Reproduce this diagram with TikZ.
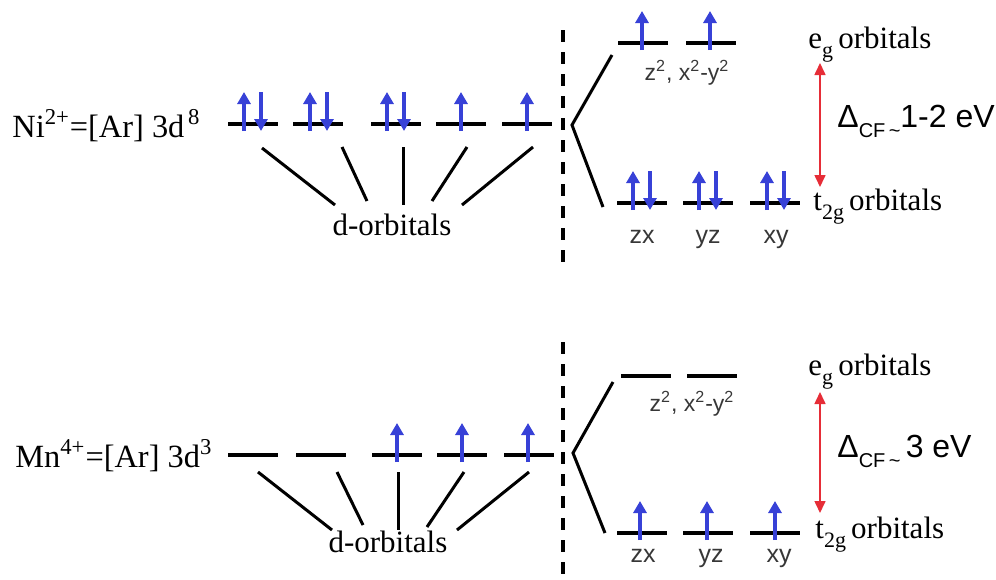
\documentclass[tikz,border=0pt]{standalone}
\usepackage{fontspec}
\setmainfont{Liberation Serif}
\newfontfamily\sansf{Liberation Sans}
\usetikzlibrary{arrows.meta,calc}
\definecolor{spinblue}{RGB}{55,65,215}
\definecolor{gapred}{RGB}{230,45,55}
\definecolor{labgray}{RGB}{55,55,55}
\newcommand\upspin[2]{\draw[spinup] ($(#1)+(#2,7)$) -- ($(#1)+(#2,-32)$);}
\newcommand\downspin[2]{\draw[spinup] ($(#1)+(#2,-32)$) -- ($(#1)+(#2,7)$);}
\newcommand\lowsub[1]{\raisebox{-0.3em}{\fontsize{11}{12}\selectfont #1}}
\newcommand\cfsub[1]{\raisebox{-0.32em}{\fontsize{10}{12}\selectfont #1}}
\tikzset{
  lvl/.style={minimum width=25pt, minimum height=0pt, inner sep=0pt, outer sep=0pt},
  lvlline/.style={line width=1.6pt, black},
  conn/.style={line width=1.5pt, black},
  spinup/.style={line width=1.6pt, spinblue, -{Triangle[length=6pt,width=6.5pt]}},
  gaparrow/.style={line width=0.8pt, gapred, {Triangle[length=6pt,width=5.5pt]}-{Triangle[length=6pt,width=5.5pt]}},
  divider/.style={line width=2pt, black, dash pattern=on 6pt off 5pt},
  serifbig/.style={font=\fontsize{16.2}{19}\selectfont, inner sep=0pt, anchor=base west},
  seriflab/.style={font=\fontsize{15.5}{18}\selectfont, inner sep=0pt},
  orblab/.style={font=\sansf\fontsize{12.5}{14}\selectfont, text=labgray, inner sep=0pt, anchor=base},
  smalllab/.style={font=\sansf\fontsize{11.5}{13}\selectfont, text=labgray, inner sep=0pt, anchor=base},
  gaplab/.style={font=\sansf\fontsize{16}{19}\selectfont, inner sep=0pt, anchor=base west}
}
\begin{document}
\begin{tikzpicture}[x=0.5pt,y=-0.5pt]
\useasboundingbox (0,0) rectangle (996,579);

% ---------------- top: Ni2+ ----------------
\node[serifbig] (ni) at (12,137) {Ni\textsuperscript{2+}=[Ar] 3d\textsuperscript{\,8}};
\node[lvl] (A1) at (253,124) {};
\node[lvl] (A2) at (318,124) {};
\node[lvl] (A3) at (396,124) {};
\node[lvl] (A4) at (461,124) {};
\node[lvl] (A5) at (527,124) {};
\foreach \n in {A1,A2,A3,A4,A5} {\draw[lvlline] (\n.west) -- (\n.east);}
\upspin{A1}{-9}\downspin{A1}{8}
\upspin{A2}{-8}\downspin{A2}{9}
\upspin{A3}{-9}\downspin{A3}{8}
\upspin{A4}{0}
\upspin{A5}{0}

\node[seriflab, anchor=base] (dA) at (392,235) {d-orbitals};
\coordinate (a1s) at (262,148); \coordinate (a1e) at (335,205);
\coordinate (a2s) at (342,147); \coordinate (a2e) at (367,201);
\coordinate (a3s) at (403,147); \coordinate (a3e) at (403,205);
\coordinate (a4s) at (467,147); \coordinate (a4e) at (432,201);
\coordinate (a5s) at (533,147); \coordinate (a5e) at (462,205);
\foreach \i in {1,...,5} {\draw[conn] (a\i s) -- (a\i e);}

\coordinate (dvt1) at (563,30); \coordinate (dvt2) at (563,268);
\draw[divider] (dvt1) -- (dvt2);

\coordinate (brA) at (572,125);
\coordinate (brAu) at (612,55);
\coordinate (brAd) at (603,207);
\draw[conn] (brAu) -- (brA) -- (brAd);

\node[lvl] (EA1) at (643,43) {};
\node[lvl] (EA2) at (711,43) {};
\node[lvl] (TA1) at (642,203) {};
\node[lvl] (TA2) at (708,203) {};
\node[lvl] (TA3) at (775,203) {};
\foreach \n in {EA1,EA2,TA1,TA2,TA3} {\draw[lvlline] (\n.west) -- (\n.east);}
\upspin{EA1}{-1}
\upspin{EA2}{-1}
\upspin{TA1}{-9}\downspin{TA1}{8}
\upspin{TA2}{-9}\downspin{TA2}{8}
\upspin{TA3}{-8}\downspin{TA3}{9}

\node[smalllab] (zA) at (687,80) {z\textsuperscript{2}, x\textsuperscript{2}-y\textsuperscript{2}};
\node[orblab] (zxA) at (642,243) {zx};
\node[orblab] (yzA) at (708,243) {yz};
\node[orblab] (xyA) at (776,243) {xy};

\node[seriflab, anchor=base west] (egA) at (808,48) {e\lowsub{g}\,orbitals};
\node[seriflab, anchor=base west] (tgA) at (813,210) {t\lowsub{2g}\,orbitals};
\coordinate (rA1) at (820,63); \coordinate (rA2) at (820,187);
\draw[gaparrow] (rA1) -- (rA2);
\node[gaplab] (gapA) at (837,127) {Δ\cfsub{CF\,\textasciitilde}1-2 eV};

% ---------------- bottom: Mn4+ ----------------
\node[serifbig] (mn) at (15,467) {Mn\textsuperscript{4+}=[Ar] 3d\textsuperscript{3}};
\node[lvl] (B1) at (253,455) {};
\node[lvl] (B2) at (321,455) {};
\node[lvl] (B3) at (397,455) {};
\node[lvl] (B4) at (462,455) {};
\node[lvl] (B5) at (529,455) {};
\foreach \n in {B1,B2,B3,B4,B5} {\draw[lvlline] (\n.west) -- (\n.east);}
\upspin{B3}{0}
\upspin{B4}{0}
\upspin{B5}{-1}

\node[seriflab, anchor=base] (dB) at (388,552) {d-orbitals};
\coordinate (b1s) at (258,472); \coordinate (b1e) at (332,530);
\coordinate (b2s) at (337,472); \coordinate (b2e) at (363,525);
\coordinate (b3s) at (398,472); \coordinate (b3e) at (398,530);
\coordinate (b4s) at (464,472); \coordinate (b4e) at (427,527);
\coordinate (b5s) at (529,472); \coordinate (b5e) at (457,530);
\foreach \i in {1,...,5} {\draw[conn] (b\i s) -- (b\i e);}

\coordinate (dvb1) at (563,342); \coordinate (dvb2) at (563,579);
\draw[divider] (dvb1) -- (dvb2);

\coordinate (brB) at (573,453);
\coordinate (brBu) at (613,382);
\coordinate (brBd) at (605,533);
\draw[conn] (brBu) -- (brB) -- (brBd);

\node[lvl] (EB1) at (646,376) {};
\node[lvl] (EB2) at (712,376) {};
\node[lvl] (TB1) at (642,533) {};
\node[lvl] (TB2) at (708,533) {};
\node[lvl] (TB3) at (775,533) {};
\foreach \n in {EB1,EB2,TB1,TB2,TB3} {\draw[lvlline] (\n.west) -- (\n.east);}
\upspin{TB1}{-2}
\upspin{TB2}{-1}
\upspin{TB3}{0}

\node[smalllab] (zB) at (692,411) {z\textsuperscript{2}, x\textsuperscript{2}-y\textsuperscript{2}};
\node[orblab] (zxB) at (643,562) {zx};
\node[orblab] (yzB) at (711,562) {yz};
\node[orblab] (xyB) at (779,562) {xy};

\node[seriflab, anchor=base west] (egB) at (808,375) {e\lowsub{g}\,orbitals};
\node[seriflab, anchor=base west] (tgB) at (815,538) {t\lowsub{2g}\,orbitals};
\coordinate (rB1) at (820,392); \coordinate (rB2) at (820,513);
\draw[gaparrow] (rB1) -- (rB2);
\node[gaplab] (gapB) at (837,457) {Δ\cfsub{CF\,\textasciitilde}\,3 eV};
\end{tikzpicture}
\end{document}
